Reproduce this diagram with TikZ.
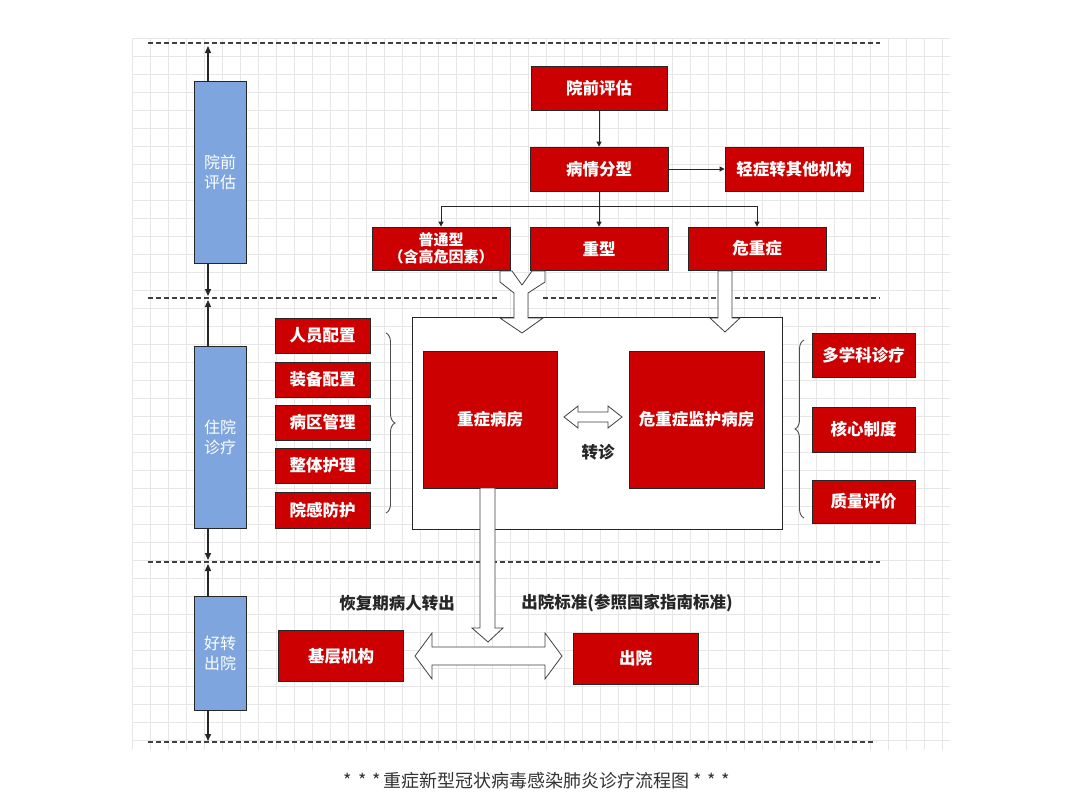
\documentclass[tikz,border=0pt]{standalone}
\usepackage{fontspec}
\setmainfont{Noto Sans CJK SC}
\usetikzlibrary{arrows.meta,decorations.pathreplacing}
\definecolor{boxred}{RGB}{204,0,0}
\definecolor{boxblue}{RGB}{126,165,222}
\definecolor{gridc}{RGB}{230,230,230}
\begin{document}
\begin{tikzpicture}[x=1pt,y=-1pt,
  redbox/.style={draw=black!85, line width=0.8pt, fill=boxred, text=white,
    font=\fontsize{16.5}{19}\selectfont\bfseries, inner sep=0pt, align=center},
  bluebox/.style={draw=black!85, line width=0.8pt, fill=boxblue, text=white,
    font=\fontsize{16}{20}\selectfont, inner sep=0pt, align=center},
  blockarrow/.style={draw=black!75, fill=white, line width=0.8pt, line join=miter},
  thinarrow/.style={draw=black!85, line width=0.9pt, -{Triangle[length=5pt,width=5pt]}},
  sidearrow/.style={draw=black!85, line width=1.4pt, -{Triangle[length=7pt,width=6pt]}},
  sepline/.style={draw=black!75, line width=1.6pt, dash pattern=on 5pt off 3pt},
  lbl/.style={font=\fontsize{16.5}{19}\selectfont\bfseries, text=black!85},
  bracestyle/.style={draw=black!70, line width=0.9pt, decorate, decoration={brace, amplitude=9pt}}
]
\useasboundingbox (0,0) rectangle (1074,806);
\fill[white] (0,0) rectangle (1074,806);
% grid
\foreach \gx in {132,150,...,950} \draw[gridc, line width=0.5pt] (\gx,38) -- (\gx,750);
\foreach \gy in {38,56,...,750} \draw[gridc, line width=0.5pt] (132,\gy) -- (950,\gy);
% separators
\draw[sepline] (148,43) -- (880,43);
\draw[sepline] (148,298) -- (497,298);
\draw[sepline] (543,298) -- (880,298);
\draw[sepline] (148,562) -- (880,562);
\draw[sepline] (148,742) -- (876,742);

% left phase boxes
\node[bluebox, minimum width=52pt, minimum height=182pt] (b1) at (220,172) {院前\\评估};
\node[bluebox, minimum width=52pt, minimum height=182pt] (b2) at (220,437) {住院\\诊疗};
\node[bluebox, minimum width=52pt, minimum height=114pt] (b3) at (220,653) {好转\\出院};
\coordinate (t0) at (208,46);
\coordinate (t1) at (208,296);
\coordinate (t2) at (208,300);
\coordinate (t3) at (208,560);
\coordinate (t4) at (208,564);
\coordinate (t5) at (208,741);
\draw[sidearrow] (b1.north -| t0) -- (t0);
\draw[sidearrow] (b1.south -| t1) -- (t1);
\draw[sidearrow] (b2.north -| t2) -- (t2);
\draw[sidearrow] (b2.south -| t3) -- (t3);
\draw[sidearrow] (b3.north -| t4) -- (t4);
\draw[sidearrow] (b3.south -| t5) -- (t5);

% top flow
\node[redbox, minimum width=136pt, minimum height=44pt] (pre) at (599,88) {院前评估};
\node[redbox, minimum width=138pt, minimum height=44pt] (cls) at (599,169) {病情分型};
\node[redbox, minimum width=138pt, minimum height=44pt] (mild) at (794,169) {轻症转其他机构};
\node[redbox, minimum width=138pt, minimum height=43pt, font=\fontsize{15}{17}\selectfont\bfseries] (common) at (441,248.5) {普通型\\（含高危因素）};
\node[redbox, minimum width=138pt, minimum height=43pt] (severe) at (599,248.5) {重型};
\node[redbox, minimum width=138pt, minimum height=43pt] (critical) at (757,248.5) {危重症};
\draw[thinarrow] (pre.south) -- (cls.north);
\draw[thinarrow] (cls.east) -- (mild.west);
\coordinate (br) at (599,206);
\draw[draw=black!85, line width=0.9pt] (cls.south) -- (br);
\draw[draw=black!85, line width=0.9pt] (br -| common.north) -- (br -| critical.north);
\draw[thinarrow] (br -| common.north) -- (common.north);
\draw[thinarrow] (br -| severe.north) -- (severe.north);
\draw[thinarrow] (br -| critical.north) -- (critical.north);

% ward frame
\node[draw=black!85, line width=1pt, fill=white, minimum width=370pt, minimum height=212pt, inner sep=0pt] (ward) at (597,423) {};
\node[redbox, minimum width=134pt, minimum height=137pt] (sw) at (490,419.5) {重症病房};
\node[redbox, minimum width=135pt, minimum height=137pt] (icu) at (696.5,419.5) {危重症监护病房};
\node[lbl] (zz) at (598,452) {转诊};
\draw[blockarrow] (564,417) -- (578,406) -- (578,412) -- (608,412) -- (608,406) -- (622,417)
  -- (608,428) -- (608,422) -- (578,422) -- (578,428) -- cycle;

% block arrows into ward
\draw[blockarrow] (500,271) -- (512,271) -- (522,285) -- (532,271) -- (545,271) -- (545,282)
  -- (528,293) -- (528,318) -- (543,318) -- (522,333) -- (500,318) -- (514,318) -- (514,293)
  -- (500,282) -- cycle;
\draw[blockarrow] (718,271) -- (732,271) -- (732,318) -- (740,318) -- (725,332) -- (710,318)
  -- (718,318) -- cycle;

% left list
\node[redbox, minimum width=95pt, minimum height=35pt] (l1) at (322.5,335.5) {人员配置};
\node[redbox, minimum width=95pt, minimum height=35pt] (l2) at (322.5,379.5) {装备配置};
\node[redbox, minimum width=95pt, minimum height=35pt] (l3) at (322.5,422.5) {病区管理};
\node[redbox, minimum width=95pt, minimum height=35pt] (l4) at (322.5,465.5) {整体护理};
\node[redbox, minimum width=95pt, minimum height=36pt] (l5) at (322.5,510) {院感防护};
\draw[bracestyle] (386,333) -- (386,513);

% right list
\node[redbox, minimum width=103pt, minimum height=44pt] (r1) at (863.5,355) {多学科诊疗};
\node[redbox, minimum width=103pt, minimum height=45pt] (r2) at (863.5,429.5) {核心制度};
\node[redbox, minimum width=103pt, minimum height=43pt] (r3) at (863.5,501.5) {质量评价};
\draw[bracestyle] (804,518) -- (804,340);

% discharge
\node[redbox, minimum width=125pt, minimum height=51pt] (base) at (341,656) {基层机构};
\node[redbox, minimum width=125pt, minimum height=51pt] (out) at (635.5,658.5) {出院};
\node[lbl] (lb1) at (397,603) {恢复期病人转出};
\node[lbl] (lb2) at (627,603) {出院标准(参照国家指南标准)};
\draw[blockarrow] (480,488) -- (495,488) -- (495,628) -- (503,628) -- (488,642) -- (472,628)
  -- (480,628) -- cycle;
\draw[blockarrow] (415,656) -- (432,633) -- (432,647) -- (545,647) -- (545,633) -- (562,656)
  -- (545,679) -- (545,665) -- (432,665) -- (432,679) -- cycle;

% caption
\node[font=\fontsize{18}{20}\selectfont, text=black!80] (cap) at (537,781) {*\,\,*\,\,*\,重症新型冠状病毒感染肺炎诊疗流程图\,*\,\,*\,\,*};
\end{tikzpicture}
\end{document}
